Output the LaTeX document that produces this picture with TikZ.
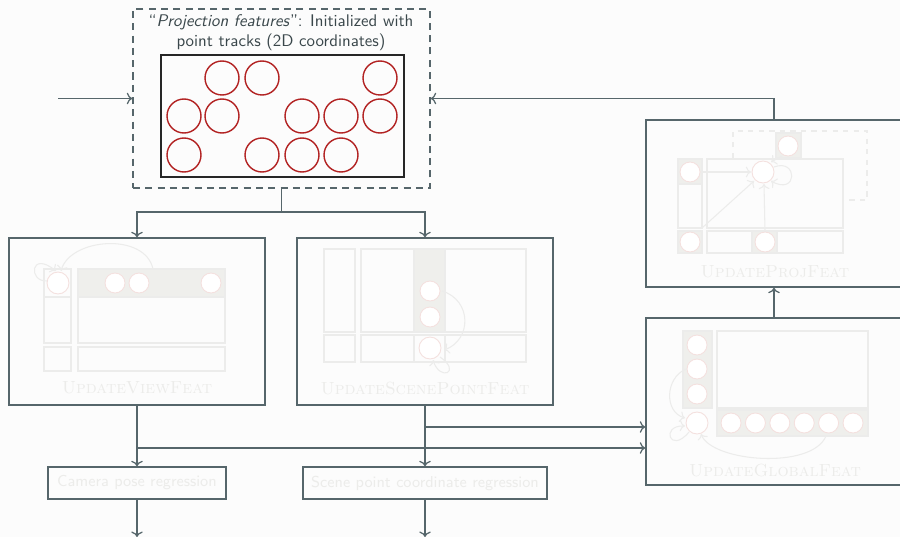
\documentclass[tikz,border=0pt]{standalone}
\usepackage{tikz}
\usetikzlibrary{arrows.meta}

\definecolor{pagebg}{HTML}{FCFCFC}
\definecolor{linegray}{HTML}{56666B}
\definecolor{textgray}{HTML}{3A474B}
\definecolor{trackred}{HTML}{B22222}
\definecolor{ghostline}{HTML}{ECECEB}
\definecolor{ghostfill}{HTML}{EFEFEC}
\definecolor{ghostred}{HTML}{F4E0DE}
\definecolor{ghosttext}{HTML}{ECECEA}

\tikzset{
  block/.style={draw=linegray, line width=0.8pt, inner sep=0pt},
  ghost/.style={draw=ghostline, line width=0.6pt},
  ghostcell/.style={ghost, fill=ghostfill},
  ghostdot/.style={draw=ghostred, line width=0.5pt, fill=white},
  ghostlabel/.style={text=ghosttext, font=\normalsize\scshape},
  flow/.style={->, linegray, line width=0.7pt}
}

\begin{document}
\begin{tikzpicture}[x=0.02cm, y=-0.02cm]

  \fill[pagebg] (0,0) rectangle (900,537);
  \useasboundingbox (0,0) rectangle (900,537);

  % -- Projection features (initial) --
  \node[block, dashed, dash pattern=on 4pt off 3pt, minimum width=5.94cm, minimum height=3.58cm] (proj) at (281.5,98.5) {};
  \node[align=center, text=textgray, font=\fontsize{9.6}{11.4}\selectfont\sffamily, inner sep=0pt] (projlabel) at (281,33)
    {``\textit{Projection features}'': Initialized with\\point tracks (2D coordinates)};
  \node[draw=black!85, line width=1pt, inner sep=0pt, minimum width=4.86cm, minimum height=2.44cm] (tracks) at (282.5,116) {};
  \foreach \cx/\cy in {222/78, 262/78, 380/78,
                       184/116, 222/116, 302/116, 341/116, 380/116,
                       184/155, 262/155, 302/155, 341/155}
    \draw[trackred, line width=0.8pt] (\cx,\cy) circle[radius=0.34cm];

  % -- Update blocks --
  \node[block, minimum width=5.12cm, minimum height=3.34cm] (view) at (137,321.5) {};
  \node[block, minimum width=5.12cm, minimum height=3.34cm] (scene) at (425,321.5) {};
  \node[block, minimum width=5.12cm, minimum height=3.34cm] (projfeat) at (774,203.5) {};
  \node[block, minimum width=5.12cm, minimum height=3.34cm] (global) at (774,401.5) {};

  % -- Regression heads --
  \node[block, minimum width=3.56cm, minimum height=0.64cm, font=\small\sffamily, text=ghosttext] (cam) at (137,483) {Camera pose regression};
  \node[block, minimum width=4.88cm, minimum height=0.64cm, font=\small\sffamily, text=ghosttext] (scp) at (425,483) {Scene point coordinate regression};

  % -- UpdateViewFeat (faded) --
  \draw[ghost] (44,269) rectangle (71,297) (44,297) rectangle (71,343) (44,347) rectangle (71,371);
  \draw[ghostcell] (78,269) rectangle (225,297);
  \draw[ghost] (78,297) rectangle (225,343) (78,347) rectangle (225,371);
  \draw[ghostdot] (58,283) circle[radius=0.22cm];
  \foreach \cx in {115, 139, 211}
    \draw[ghostdot] (\cx,283) circle[radius=0.2cm];
  \draw[ghost, ->] (153,269) .. controls (145,232) and (70,238) .. (61,271);
  \draw[ghost, ->] (47,281) .. controls (28,282) and (30,250) .. (56,271);
  \node[ghostlabel] (viewlabel) at (137,388) {UpdateViewFeat};

  % -- UpdateScenePointFeat (faded) --
  \draw[ghost] (324,249) rectangle (355,332) (324,335) rectangle (355,362);
  \draw[ghost] (361,249) rectangle (526,332) (361,335) rectangle (526,362);
  \draw[ghostcell] (414,249) rectangle (445,332);
  \draw[ghost] (414,335) rectangle (445,362);
  \foreach \cy in {291, 317}
    \draw[ghostdot] (430,\cy) circle[radius=0.2cm];
  \draw[ghostdot] (430,348) circle[radius=0.22cm];
  \draw[ghost, ->] (442,291) .. controls (472,300) and (472,340) .. (444,350);
  \draw[ghost, ->] (440,357) .. controls (462,372) and (440,382) .. (433,360);
  \node[ghostlabel] (scenelabel) at (425,388) {UpdateScenePointFeat};

  % -- UpdateProjFeat (faded) --
  \draw[ghostcell] (678,159) rectangle (702,184) (678,231) rectangle (702,253);
  \draw[ghost] (678,184) rectangle (702,228);
  \draw[ghost] (707,159) rectangle (843,228) (707,231) rectangle (843,253);
  \draw[ghostcell] (752,231) rectangle (777,253) (776,133) rectangle (801,158);
  \draw[ghost, dashed] (733,158) -- (733,131) -- (867,131) -- (867,200) -- (843,200);
  \foreach \cx/\cy in {690/172, 690/242, 765/242, 788/146}
    \draw[ghostdot] (\cx,\cy) circle[radius=0.2cm];
  \draw[ghostdot] (763,172) circle[radius=0.22cm];
  \draw[ghost, ->] (702,172) -- (751,172);
  \draw[ghost, ->] (702,228) -- (754,181);
  \draw[ghost, ->] (765,231) -- (764,184);
  \draw[ghost, ->] (782,156) -- (771,162);
  \draw[ghost, ->] (774,167) .. controls (798,158) and (798,196) .. (771,181);
  \node[ghostlabel] (projfeatlabel) at (775,272) {UpdateProjFeat};

  % -- UpdateGlobalFeat (faded) --
  \draw[ghostcell] (683,331) rectangle (712,408);
  \draw[ghost] (717,331) rectangle (868,408);
  \draw[ghostcell] (717,410) rectangle (868,436);
  \foreach \cy in {345, 369, 394}
    \draw[ghostdot] (697,\cy) circle[radius=0.2cm];
  \foreach \i in {0,...,5}
    \draw[ghostdot] (731+24.4*\i,423) circle[radius=0.2cm];
  \draw[ghostdot] (697,423) circle[radius=0.22cm];
  \draw[ghost, ->] (686,369) .. controls (665,378) and (664,412) .. (685,418);
  \draw[ghost, ->] (689,432) .. controls (670,455) and (660,425) .. (685,426);
  \draw[ghost, ->] (826,436) .. controls (812,470) and (712,462) .. (701,434);
  \node[ghostlabel] (globallabel) at (775,470) {UpdateGlobalFeat};

  % -- Connectors --
  \coordinate (input) at (58,98.5);
  \draw[flow] (input) -- (proj.west);
  \draw[flow] (projfeat.north) |- (proj.east);
  \coordinate (split) at (281.5,212);
  \draw[linegray, line width=0.7pt] (proj.south) -- (split);
  \draw[flow] (split) -| (view.north);
  \draw[flow] (split) -| (scene.north);
  \draw[flow] (view.south) -- (cam.north);
  \draw[flow] (scene.south) -- (scp.north);
  \coordinate (viewtap) at (137,448);
  \coordinate (scenetap) at (425,427);
  \draw[flow] (viewtap) -- (viewtap -| global.west);
  \draw[flow] (scenetap) -- (scenetap -| global.west);
  \draw[flow] (global.north) -- (projfeat.south);
  \coordinate (camout) at (137,537);
  \coordinate (scpout) at (425,537);
  \draw[flow] (cam.south) -- (camout);
  \draw[flow] (scp.south) -- (scpout);

\end{tikzpicture}
\end{document}
